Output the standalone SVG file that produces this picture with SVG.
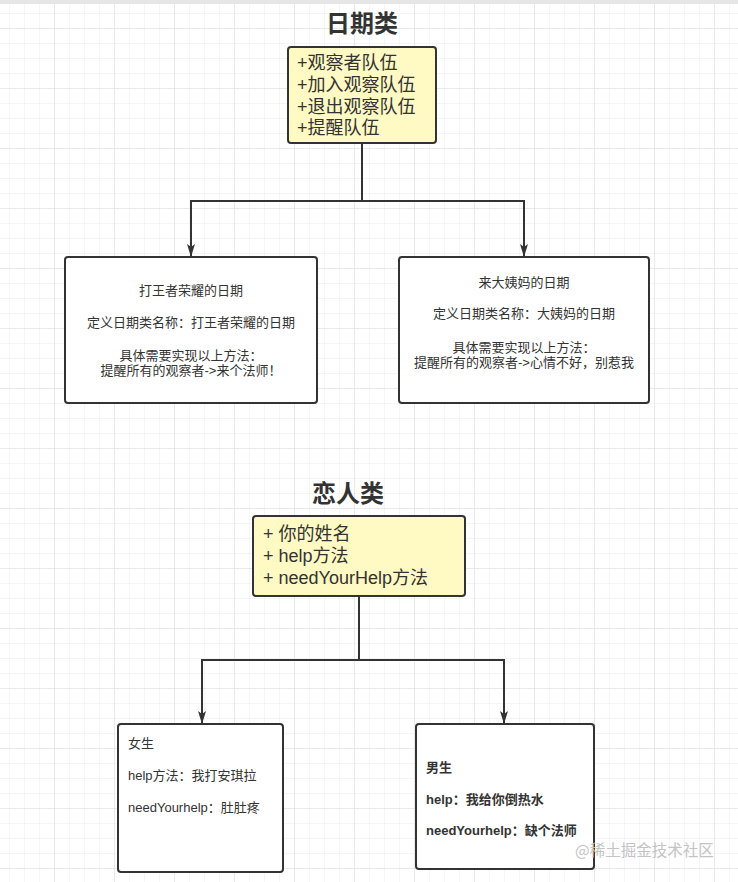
<svg xmlns="http://www.w3.org/2000/svg" width="738" height="882" viewBox="0 0 738 882">
<defs>
<pattern id="minor" width="15" height="15" patternUnits="userSpaceOnUse" x="9" y="13">
<path d="M0 0H15M0 0V15" fill="none" stroke="#ececec" stroke-width="1"/>
</pattern>
<pattern id="major" width="60" height="60" patternUnits="userSpaceOnUse" x="54" y="28">
<path d="M0 0H60M0 0V60" fill="none" stroke="#dedede" stroke-width="1"/>
</pattern>
<marker id="arr" markerWidth="13" markerHeight="10" refX="12" refY="5" orient="auto" markerUnits="userSpaceOnUse" viewBox="0 0 13 10">
<path d="M0 1L13 5L0 9L3 5Z" fill="#333"/>
</marker>
</defs>
<style>
.t{font-family:"Liberation Sans","Noto Sans CJK SC",sans-serif;fill:#333}
.title{font-size:24px;font-weight:bold;text-anchor:middle}
.y{fill:#fff9c4;stroke:#333;stroke-width:2}
.w{fill:#fff;stroke:#333;stroke-width:2}
.yt{font-size:18px}
.s{font-size:13px}
.c{text-anchor:middle}
.b{font-weight:bold}
.ln{fill:none;stroke:#333;stroke-width:2}
</style>
<rect width="738" height="882" fill="#fff"/>
<rect width="738" height="882" fill="url(#minor)"/>
<rect width="738" height="882" fill="url(#major)"/>
<rect width="738" height="4" fill="#e6e6e6"/>

<text class="t title" x="362" y="32">日期类</text>
<g id="observer">
<rect class="y" x="288" y="47" width="148" height="96" rx="3"/>
<text class="t yt" x="297" y="69">+观察者队伍</text>
<text class="t yt" x="297" y="91">+加入观察队伍</text>
<text class="t yt" x="297" y="113">+退出观察队伍</text>
<text class="t yt" x="297" y="134">+提醒队伍</text>
</g>
<g id="wangzhe">
<rect class="w" x="65" y="257" width="252" height="146" rx="3"/>
<text class="t s c" x="191" y="295">打王者荣耀的日期</text>
<text class="t s c" x="191" y="327">定义日期类名称：打王者荣耀的日期</text>
<text class="t s c" x="191" y="360">具体需要实现以上方法：</text>
<text class="t s c" x="191" y="375">提醒所有的观察者-&gt;来个法师！</text>
</g>
<g id="dayima">
<rect class="w" x="399" y="257" width="250" height="146" rx="3"/>
<text class="t s c" x="524" y="287">来大姨妈的日期</text>
<text class="t s c" x="524" y="318">定义日期类名称：大姨妈的日期</text>
<text class="t s c" x="524" y="352">具体需要实现以上方法：</text>
<text class="t s c" x="524" y="367">提醒所有的观察者-&gt;心情不好，别惹我</text>
</g>

<text class="t title" x="348" y="502">恋人类</text>
<g id="lover">
<rect class="y" x="253" y="516" width="212" height="80" rx="3"/>
<text class="t yt" x="263" y="540">+ 你的姓名</text>
<text class="t yt" x="263" y="562">+ help方法</text>
<text class="t yt" x="263" y="584">+ needYourHelp方法</text>
</g>
<g id="girl">
<rect class="w" x="118" y="724" width="165" height="148" rx="3"/>
<text class="t s" x="128" y="748">女生</text>
<text class="t s" x="128" y="780">help方法：我打安琪拉</text>
<text class="t s" x="128" y="812">needYourhelp：肚肚疼</text>
</g>
<g id="boy">
<rect class="w" x="416" y="724" width="178" height="145" rx="3"/>
<text class="t s b" x="426" y="772">男生</text>
<text class="t s b" x="426" y="804">help：我给你倒热水</text>
<text class="t s b" x="426" y="835">needYourhelp：缺个法师</text>
</g>

<g id="connectors">
<path class="ln" d="M362 143V201H191V256" marker-end="url(#arr)"/>
<path class="ln" d="M362 201H524V256" marker-end="url(#arr)"/>
<path class="ln" d="M359 596V660H202V723" marker-end="url(#arr)"/>
<path class="ln" d="M359 660H504V723" marker-end="url(#arr)"/>
</g>

<text x="575" y="856" font-family="'Noto Sans CJK SC',sans-serif" font-size="15.5" fill="#c4c4c4">@稀土掘金技术社区</text>
</svg>
